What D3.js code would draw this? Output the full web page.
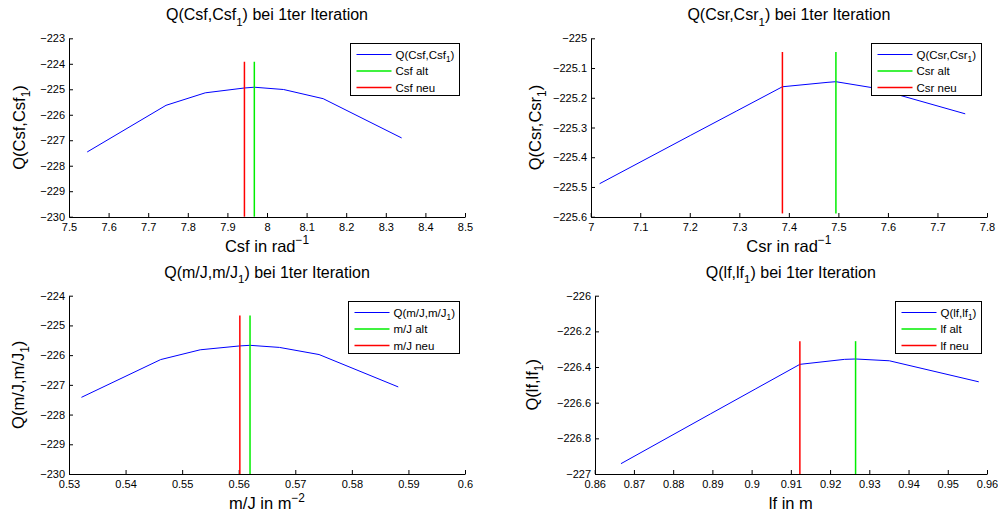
<!DOCTYPE html>
<html>
<head>
<meta charset="utf-8">
<script src="https://cdn.jsdelivr.net/npm/d3@7"></script>
<style>
  body { margin: 0; background: #fff; }
  svg { display: block; font-family: "Liberation Sans", Arial, Helvetica, sans-serif; }
</style>
</head>
<body>
<svg id="chart" width="998" height="515"></svg>
<script>
// ---- Csf (oben links)
const csfX = [7.546, 7.745, 7.844, 7.943, 7.968, 8.042, 8.142, 8.340];
const csfQ = [-227.46, -225.63, -225.14, -224.95, -224.92, -225.01, -225.37, -226.91];
const csfAlt = 7.968, csfNeu = 7.943;
const csfVLine = [-230, -223.92];
const csfXTicks = [7.5, 7.6, 7.7, 7.8, 7.9, 8, 8.1, 8.2, 8.3, 8.4, 8.5];
const csfYTicks = [-230, -229, -228, -227, -226, -225, -224, -223];

// ---- Csr (oben rechts)
const csrX = [7.018, 7.202, 7.294, 7.387, 7.479, 7.495, 7.572, 7.756];
const csrQ = [-225.489, -225.326, -225.245, -225.163, -225.148, -225.146, -225.167, -225.254];
const csrAlt = 7.495, csrNeu = 7.387;
const csrVLine = [-225.589, -225.046];
const csrXTicks = [7, 7.1, 7.2, 7.3, 7.4, 7.5, 7.6, 7.7, 7.8];
const csrYTicks = [-225.6, -225.5, -225.4, -225.3, -225.2, -225.1, -225];

// ---- m/J (unten links)
const mjX = [0.5322, 0.5462, 0.5532, 0.5602, 0.5620, 0.5672, 0.5742, 0.5882];
const mjQ = [-227.42, -226.15, -225.82, -225.69, -225.67, -225.74, -225.98, -227.07];
const mjAlt = 0.5620, mjNeu = 0.5602;
const mjVLine = [-230, -224.67];
const mjXTicks = [0.53, 0.54, 0.55, 0.56, 0.57, 0.58, 0.59, 0.6];
const mjYTicks = [-230, -229, -228, -227, -226, -225, -224];

// ---- lf (unten rechts)
const lfX = [0.8667, 0.8895, 0.9009, 0.9123, 0.9237, 0.9265, 0.9351, 0.9579];
const lfQ = [-226.942, -226.663, -226.524, -226.385, -226.357, -226.355, -226.365, -226.483];
const lfAlt = 0.9265, lfNeu = 0.9123;
const lfVLine = [-227, -226.255];
const lfXTicks = [0.86, 0.87, 0.88, 0.89, 0.9, 0.91, 0.92, 0.93, 0.94, 0.95, 0.96];
const lfYTicks = [-227, -226.8, -226.6, -226.4, -226.2, -226];

// texts: [text, "sub"|"sup"|undefined]
const panels = [
  {
    box: {left: 69, right: 465, top: 38.3, bottom: 216.7}, ylabOff: 44,
    x: csfX, q: csfQ, alt: csfAlt, neu: csfNeu, vline: csfVLine,
    xTicks: csfXTicks, yTicks: csfYTicks,
    title: [["Q(Csf,Csf"], ["1", "sub"], [") bei 1ter Iteration"]],
    xlabel: [["Csf in rad"], ["\u22121", "sup"]],
    ylabel: [["Q(Csf,Csf"], ["1", "sub"], [")"]],
    legend: [[["Q(Csf,Csf"], ["1", "sub"], [")"]], [["Csf alt"]], [["Csf neu"]]]
  },
  {
    box: {left: 590.7, right: 987, top: 38.3, bottom: 216.7}, ylabOff: 50,
    x: csrX, q: csrQ, alt: csrAlt, neu: csrNeu, vline: csrVLine,
    xTicks: csrXTicks, yTicks: csrYTicks,
    title: [["Q(Csr,Csr"], ["1", "sub"], [") bei 1ter Iteration"]],
    xlabel: [["Csr in rad"], ["\u22121", "sup"]],
    ylabel: [["Q(Csr,Csr"], ["1", "sub"], [")"]],
    legend: [[["Q(Csr,Csr"], ["1", "sub"], [")"]], [["Csr alt"]], [["Csr neu"]]]
  },
  {
    box: {left: 69, right: 465, top: 295.7, bottom: 474}, ylabOff: 45,
    x: mjX, q: mjQ, alt: mjAlt, neu: mjNeu, vline: mjVLine,
    xTicks: mjXTicks, yTicks: mjYTicks,
    title: [["Q(m/J,m/J"], ["1", "sub"], [") bei 1ter Iteration"]],
    xlabel: [["m/J in m"], ["\u22122", "sup"]],
    ylabel: [["Q(m/J,m/J"], ["1", "sub"], [")"]],
    legend: [[["Q(m/J,m/J"], ["1", "sub"], [")"]], [["m/J alt"]], [["m/J neu"]]]
  },
  {
    box: {left: 594.7, right: 987, top: 295.7, bottom: 474}, ylabOff: 57,
    x: lfX, q: lfQ, alt: lfAlt, neu: lfNeu, vline: lfVLine,
    xTicks: lfXTicks, yTicks: lfYTicks,
    title: [["Q(lf,lf"], ["1", "sub"], [") bei 1ter Iteration"]],
    xlabel: [["lf in m"]],
    ylabel: [["Q(lf,lf"], ["1", "sub"], [")"]],
    legend: [[["Q(lf,lf"], ["1", "sub"], [")"]], [["lf alt"]], [["lf neu"]]]
  }
];

const BLUE = "#0000ff", GREEN = "#00ee00", RED = "#ff0000";
const fmt = d3.format("~g");

let addParts = (sel, parts, size) => {
  let shift = 0;
  parts.forEach(([t, kind]) => {
    let target = kind === "sub" ? size * 0.33 : kind === "sup" ? -size * 0.45 : 0;
    sel.append("tspan")
      .attr("dy", target - shift)
      .attr("font-size", kind ? size * 0.72 : size)
      .text(t);
    shift = target;
  });
};

const svg = d3.select("#chart");

panels.forEach(p => {
  const b = p.box;
  const x = d3.scaleLinear()
    .domain([p.xTicks[0], p.xTicks[p.xTicks.length - 1]])
    .range([b.left, b.right]);
  const y = d3.scaleLinear()
    .domain([p.yTicks[0], p.yTicks[p.yTicks.length - 1]])
    .range([b.bottom, b.top]);

  const g = svg.append("g");

  // axes (ticks inward, like matlab)
  const gx = g.append("g")
    .attr("transform", `translate(0,${Math.round(b.bottom)})`)
    .call(d3.axisBottom(x).tickValues(p.xTicks).tickFormat(fmt)
      .tickSizeInner(-4).tickSizeOuter(0).tickPadding(6));
  const gy = g.append("g")
    .attr("transform", `translate(${Math.round(b.left)},0)`)
    .call(d3.axisLeft(y).tickValues(p.yTicks).tickFormat(fmt)
      .tickSizeInner(-4).tickSizeOuter(0).tickPadding(4));
  [gx, gy].forEach(a => {
    a.attr("font-size", 11).attr("font-family", null).attr("color", "#000");
  });

  // curve
  const line = d3.line().x((d, i) => x(p.x[i])).y(d => y(d));
  g.append("path")
    .datum(p.q)
    .attr("d", line)
    .attr("fill", "none")
    .attr("stroke", BLUE)
    .attr("stroke-width", 1);

  // alt / neu
  [[p.alt, GREEN], [p.neu, RED]].forEach(([v, c]) => {
    g.append("line")
      .attr("x1", x(v)).attr("x2", x(v))
      .attr("y1", y(p.vline[0])).attr("y2", y(p.vline[1]))
      .attr("stroke", c)
      .attr("stroke-width", 1.5);
  });

  // title
  const cx = (b.left + b.right) / 2;
  addParts(g.append("text").attr("x", cx).attr("y", b.top - 18)
    .attr("text-anchor", "middle").attr("fill", "#000"), p.title, 16);

  // x label
  addParts(g.append("text").attr("x", cx).attr("y", b.bottom + 35)
    .attr("text-anchor", "middle").attr("fill", "#000"), p.xlabel, 16.5);

  // y label
  const yl = (b.top + b.bottom) / 2;
  addParts(g.append("text")
    .attr("transform", `translate(${b.left - p.ylabOff},${yl}) rotate(-90)`)
    .attr("text-anchor", "middle").attr("fill", "#000"), p.ylabel, 16.5);

  // legend
  const lg = g.append("g");
  const rect = lg.append("rect").attr("fill", "#fff").attr("stroke", "#000").attr("stroke-width", 1);
  const colors = [BLUE, GREEN, RED];
  let maxW = 0;
  const rows = p.legend.map((parts, i) => {
    const t = lg.append("text").attr("fill", "#000");
    addParts(t, parts, 11.5);
    maxW = Math.max(maxW, t.node().getComputedTextLength());
    return t;
  });
  const w = Math.round(45 + maxW + 5), h = 52;
  const lx = Math.round(b.right - 6 - w) + 0.5, ly = Math.round(b.top + 5) + 0.5;
  rect.attr("x", lx).attr("y", ly).attr("width", w).attr("height", h);
  rows.forEach((t, i) => {
    const ry = ly + 11 + i * 16.5;
    lg.append("line")
      .attr("x1", lx + 6).attr("x2", lx + 41)
      .attr("y1", ry).attr("y2", ry)
      .attr("stroke", colors[i]).attr("stroke-width", i === 0 ? 1 : 1.5);
    t.attr("x", lx + 45).attr("y", ry + 4);
  });
});
</script>
</body>
</html>
